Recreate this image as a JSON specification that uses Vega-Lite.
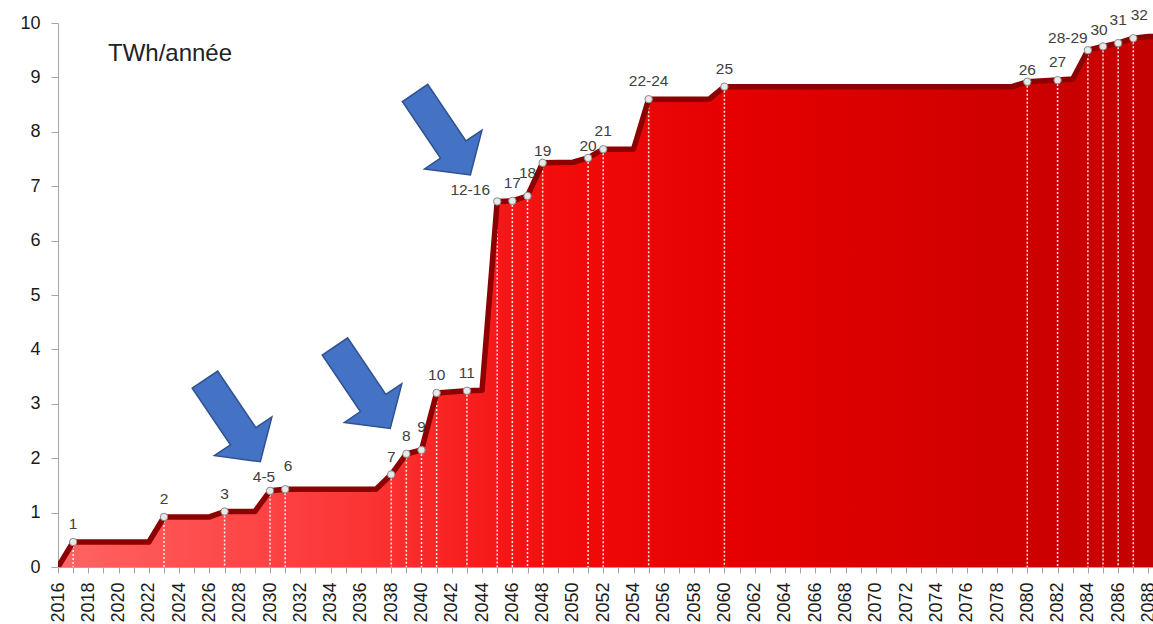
{
  "$schema": "https://vega.github.io/schema/vega-lite/v6.json",
  "width": 1095,
  "height": 544,
  "autosize": {"type": "none"},
  "padding": {"left": 58, "top": 23, "right": 0, "bottom": 57},
  "background": "white",
  "config": {"view": {"stroke": null}, "font": "Liberation Sans"},
  "datasets": {
    "series": [
      {"year": 2016, "value": 0},
      {"year": 2017, "value": 0.46, "label": "1"},
      {"year": 2022, "value": 0.46},
      {"year": 2023, "value": 0.92, "label": "2"},
      {"year": 2026, "value": 0.92},
      {"year": 2027, "value": 1.02, "label": "3"},
      {"year": 2029, "value": 1.02},
      {"year": 2030, "value": 1.40, "label": "4-5"},
      {"year": 2031, "value": 1.43, "label": "6"},
      {"year": 2037, "value": 1.43},
      {"year": 2038, "value": 1.70, "label": "7"},
      {"year": 2039, "value": 2.08, "label": "8"},
      {"year": 2040, "value": 2.15, "label": "9"},
      {"year": 2041, "value": 3.20, "label": "10"},
      {"year": 2043, "value": 3.24, "label": "11"},
      {"year": 2044, "value": 3.25},
      {"year": 2045, "value": 6.72, "label": "12-16"},
      {"year": 2046, "value": 6.73, "label": "17"},
      {"year": 2047, "value": 6.82, "label": "18"},
      {"year": 2048, "value": 7.43, "label": "19"},
      {"year": 2050, "value": 7.44},
      {"year": 2051, "value": 7.52, "label": "20"},
      {"year": 2052, "value": 7.68, "label": "21"},
      {"year": 2054, "value": 7.68},
      {"year": 2055, "value": 8.60, "label": "22-24"},
      {"year": 2059, "value": 8.60},
      {"year": 2060, "value": 8.83, "label": "25"},
      {"year": 2079, "value": 8.83},
      {"year": 2080, "value": 8.92, "label": "26"},
      {"year": 2082, "value": 8.95, "label": "27"},
      {"year": 2083, "value": 8.97},
      {"year": 2084, "value": 9.50, "label": "28-29"},
      {"year": 2085, "value": 9.57, "label": "30"},
      {"year": 2086, "value": 9.63, "label": "31"},
      {"year": 2087, "value": 9.72, "label": "32"},
      {"year": 2088, "value": 9.75},
      {"year": 2089, "value": 9.75}
    ],
    "arrows": [
      {"year": 2027.53, "value": 2.69},
      {"year": 2036.11, "value": 3.30},
      {"year": 2041.4, "value": 7.96}
    ],
    "note": [
      {"year": 2019.3, "value": 9.43, "t": "TWh/année"}
    ]
  },
  "encoding": {
    "x": {
      "field": "year",
      "type": "quantitative",
      "scale": {"domain": [2016, 2088.3], "nice": false, "zero": false},
      "axis": {
        "title": null,
        "tickCount": 73,
        "format": "d",
        "labelExpr": "datum.value % 2 === 0 ? datum.label : ''",
        "labelAngle": -90,
        "labelOverlap": false,
        "labelFlush": false,
        "labelFontSize": 18,
        "labelColor": "#1a1a1a",
        "labelPadding": 9,
        "tickColor": "#a6a6a6",
        "tickSize": 6,
        "domainColor": "#a6a6a6",
        "grid": false
      }
    },
    "y": {
      "field": "value",
      "type": "quantitative",
      "scale": {"domain": [0, 10], "nice": false},
      "axis": {
        "title": null,
        "values": [0, 1, 2, 3, 4, 5, 6, 7, 8, 9, 10],
        "labelFontSize": 18,
        "labelColor": "#1a1a1a",
        "labelPadding": 11,
        "tickColor": "#a6a6a6",
        "tickSize": 7,
        "domainColor": "#a6a6a6",
        "grid": false
      }
    }
  },
  "layer": [
    {
      "data": {"name": "series"},
      "mark": {
        "type": "area",
        "clip": true,
        "color": {
          "gradient": "linear",
          "x1": 0, "y1": 0, "x2": 1, "y2": 0,
          "stops": [
            {"offset": 0, "color": "#ff6464"},
            {"offset": 0.3, "color": "#fb3030"},
            {"offset": 0.45, "color": "#f20c0c"},
            {"offset": 0.62, "color": "#e40000"},
            {"offset": 0.85, "color": "#d00000"},
            {"offset": 1, "color": "#c10000"}
          ]
        }
      }
    },
    {
      "data": {"name": "series"},
      "transform": [{"filter": "isValid(datum.label)"}],
      "mark": {"type": "rule", "color": "white", "strokeWidth": 1.5, "strokeDash": [2, 2], "opacity": 0.9},
      "encoding": {"y2": {"datum": 0}}
    },
    {
      "data": {"name": "series"},
      "mark": {"type": "line", "clip": true, "color": "#8e0000", "strokeWidth": 5.5, "strokeJoin": "round"}
    },
    {
      "data": {"values": [{"a": 1}]},
      "mark": {"type": "rule", "color": "#930000", "strokeWidth": 4},
      "encoding": {"x": {"datum": 2016}, "x2": {"datum": 2088.3}, "y": {"datum": 0}}
    },
    {
      "data": {"name": "series"},
      "transform": [{"filter": "isValid(datum.label)"}],
      "mark": {"type": "point", "filled": true, "size": 55, "color": "#e8e8e8", "stroke": "#8a8a8a", "strokeWidth": 1, "opacity": 1}
    },
    {
      "data": {"name": "series"},
      "transform": [{"filter": "indexof(['1','2','3','7','8','10','11','17','21','22-24','25','27'], datum.label) >= 0"}],
      "mark": {"type": "text", "fontSize": 15.5, "color": "#404040", "baseline": "middle", "align": "center", "dy": -18},
      "encoding": {"text": {"field": "label"}}
    },
    {
      "data": {"name": "series"},
      "transform": [{"filter": "indexof(['19','20','26'], datum.label) >= 0"}],
      "mark": {"type": "text", "fontSize": 15.5, "color": "#404040", "baseline": "middle", "align": "center", "dy": -12},
      "encoding": {"text": {"field": "label"}}
    },
    {
      "data": {"name": "series"},
      "transform": [{"filter": "indexof(['9','18','31'], datum.label) >= 0"}],
      "mark": {"type": "text", "fontSize": 15.5, "color": "#404040", "baseline": "middle", "align": "center", "dy": -23},
      "encoding": {"text": {"field": "label"}}
    },
    {
      "data": {"name": "series"},
      "transform": [{"filter": "datum.label === '4-5'"}],
      "mark": {"type": "text", "fontSize": 15.5, "color": "#404040", "baseline": "middle", "align": "center", "dx": -6, "dy": -14},
      "encoding": {"text": {"field": "label"}}
    },
    {
      "data": {"name": "series"},
      "transform": [{"filter": "datum.label === '6'"}],
      "mark": {"type": "text", "fontSize": 15.5, "color": "#404040", "baseline": "middle", "align": "center", "dx": 3, "dy": -23},
      "encoding": {"text": {"field": "label"}}
    },
    {
      "data": {"name": "series"},
      "transform": [{"filter": "datum.label === '12-16'"}],
      "mark": {"type": "text", "fontSize": 15.5, "color": "#404040", "baseline": "middle", "align": "center", "dx": -27, "dy": -11},
      "encoding": {"text": {"field": "label"}}
    },
    {
      "data": {"name": "series"},
      "transform": [{"filter": "datum.label === '28-29'"}],
      "mark": {"type": "text", "fontSize": 15.5, "color": "#404040", "baseline": "middle", "align": "center", "dx": -20, "dy": -12},
      "encoding": {"text": {"field": "label"}}
    },
    {
      "data": {"name": "series"},
      "transform": [{"filter": "datum.label === '30'"}],
      "mark": {"type": "text", "fontSize": 15.5, "color": "#404040", "baseline": "middle", "align": "center", "dx": -4, "dy": -16},
      "encoding": {"text": {"field": "label"}}
    },
    {
      "data": {"name": "series"},
      "transform": [{"filter": "datum.label === '32'"}],
      "mark": {"type": "text", "fontSize": 15.5, "color": "#404040", "baseline": "middle", "align": "center", "dx": 6, "dy": -23},
      "encoding": {"text": {"field": "label"}}
    },
    {
      "data": {"name": "note"},
      "mark": {"type": "text", "fontSize": 24, "color": "#222222", "align": "left", "baseline": "middle"},
      "encoding": {"text": {"field": "t"}}
    },
    {
      "data": {"name": "arrows"},
      "mark": {
        "type": "point",
        "shape": "M-0.31,-1L0.31,-1L0.31,0.38L0.7,0.38L0,1L-0.7,0.38L-0.31,0.38Z",
        "size": 9801,
        "angle": 326,
        "filled": true,
        "color": "#4472c4",
        "stroke": "#2f528f",
        "strokeWidth": 1.5,
        "opacity": 1
      }
    }
  ]
}
